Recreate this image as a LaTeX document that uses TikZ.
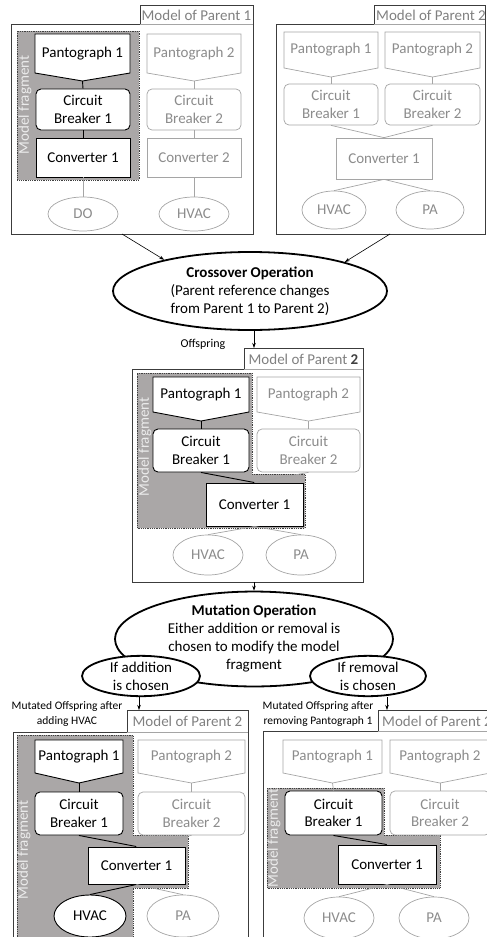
\documentclass[tikz,border=0pt]{standalone}
\usepackage{fontspec}
\setmainfont{Carlito}
\usetikzlibrary{shapes.geometric,arrows.meta}
\definecolor{fraggray}{RGB}{170,167,167}
\definecolor{ltgray}{RGB}{165,165,165}
\definecolor{lttext}{RGB}{140,140,140}
\definecolor{frametxt}{RGB}{128,128,128}
\definecolor{framecol}{RGB}{60,60,60}
\tikzset{
 txt/.style={font=\fontsize{15}{17.5}\selectfont},
 dk/.style={draw=black, line width=0.9pt, fill=white, text=black},
 lt/.style={draw=ltgray, line width=0.7pt, fill=white, text=lttext},
 lndk/.style={draw=black, line width=0.9pt},
 lnlt/.style={draw=ltgray, line width=0.7pt},
 cb/.style={rectangle, rounded corners=5pt, inner sep=0pt, align=center, txt},
 cv/.style={rectangle, inner sep=0pt, align=center, txt},
 el/.style={ellipse, inner sep=0pt, txt},
 frag/.style={fill=fraggray, draw=black!75, densely dotted, line width=0.8pt},
 fraglabel/.style={rotate=90, text=white!92!black, txt},
 frame/.style={draw=framecol, line width=0.8pt},
 tabline/.style={draw=ltgray, line width=0.4pt},
 tabtext/.style={text=frametxt, txt},
 op/.style={ellipse, draw=black, line width=1.8pt, fill=white, inner sep=0pt, align=center, font=\fontsize{15}{18}\selectfont},
 arr/.style={draw=black, line width=0.6pt, -{Stealth[length=5pt,width=3.5pt]}},
 small/.style={font=\fontsize{11.5}{15}\selectfont, align=center},
}
\newcommand\mkpanto[8]{%
 \filldraw[#2] (#3,#5) -- (#4,#5) -- (#4,#6) -- ({(#3+#4)/2},#7) -- (#3,#6) -- cycle;
 \node[#2, draw=none, fill=none, txt, inner sep=0pt] (#1) at ({(#3+#4)/2},{(#5+#6)/2}) {#8};
 \coordinate (#1t) at ({(#3+#4)/2},#7);
}
\newcommand\mkbox[8]{%
 \node[#3, #2, minimum width={#5-#4}, minimum height={#7-#6}] (#1) at ({(#4+#5)/2},{(#6+#7)/2}) {#8};
}
\newcommand\mkell[7]{%
 \node[el, #2, minimum width={2*#5}, minimum height={2*#6}] (#1) at (#3,#4) {#7};
}
\begin{document}
\begin{tikzpicture}[x=1pt,y=-1pt]
\useasboundingbox (0,0) rectangle (487,937);

% ---------------- Parent 1
\draw[frame] (11,234) -- (11,24) -- (140,24) -- (140,5) -- (253,5) -- (253,234) -- cycle;
\draw[tabline] (140,24) -- (253,24);
\node[tabtext] (tabA) at (196.5,15) {Model of Parent 1};
\draw[frag] (17,31) rectangle (139,180);
\mkpanto{aPa}{dk}{35}{130}{34}{73}{81}{Pantograph 1}
\mkbox{aCa}{dk}{cb}{36}{130}{89}{130}{Circuit\\Breaker 1}
\mkbox{aVa}{dk}{cv}{36}{130}{138}{177}{Converter 1}
\mkpanto{aPb}{lt}{147}{241}{34}{73}{81}{Pantograph 2}
\mkbox{aCb}{lt}{cb}{147}{241}{89}{130}{Circuit\\Breaker 2}
\mkbox{aVb}{lt}{cv}{147}{241}{138}{177}{Converter 2}
\mkell{aDO}{lt}{83}{214}{35}{17}{DO}
\mkell{aHV}{lt}{194}{214}{35}{17}{HVAC}
\draw[lndk] (aPat) -- (aCa.north);
\draw[lndk] (aCa.south) -- (aVa.north);
\draw[lnlt] (aPbt) -- (aCb.north);
\draw[lnlt] (aCb.south) -- (aVb.north);
\draw[lnlt] (aVa.south) -- (aDO.north);
\draw[lnlt] (aVb.south) -- (aHV.north);
\node[fraglabel] (flA) at (25,105) {Model fragment};

% ---------------- Parent 2
\draw[frame] (276,234) -- (276,24) -- (374,24) -- (374,5) -- (485,5) -- (485,234) -- cycle;
\draw[tabline] (374,24) -- (485,24);
\node[tabtext] (tabB) at (431,15) {Model of Parent 2};
\mkpanto{bPa}{lt}{284}{378}{32}{68}{77}{Pantograph 1}
\mkpanto{bPb}{lt}{385}{480}{32}{68}{77}{Pantograph 2}
\mkbox{bCa}{lt}{cb}{284}{378}{84}{125}{Circuit\\Breaker 1}
\mkbox{bCb}{lt}{cb}{385}{480}{84}{125}{Circuit\\Breaker 2}
\mkbox{bVa}{lt}{cv}{336}{432}{138}{179}{Converter 1}
\mkell{bHV}{lt}{334}{210}{32}{19}{HVAC}
\mkell{bPA}{lt}{430}{210}{34}{19}{PA}
\draw[lnlt] (bPat) -- (bCa.north);
\draw[lnlt] (bPbt) -- (bCb.north);
\draw[lnlt] (bCa.south) -- (bVa.north);
\draw[lnlt] (bCb.south) -- (bVa.north);
\draw[lnlt] (bVa.south) -- (bHV.north);
\draw[lnlt] (bVa.south) -- (bPA.north);

% ---------------- Crossover
\node[op, minimum width=274, minimum height=78] (cross) at (250,291)
 {\textbf{Crossover Operation}\\(Parent reference changes\\from Parent 1 to Parent 2)};
\coordinate (aout) at (122,234);
\coordinate (bout) at (390,234);
\draw[arr] (aout) -- (cross.160);
\draw[arr] (bout) -- (cross.17);

% ---------------- Offspring
\draw[frame] (132,582) -- (132,369) -- (244,369) -- (244,348) -- (363,348) -- (363,582) -- cycle;
\draw[tabline] (244,369) -- (363,369);
\node[tabtext] (tabO) at (303.5,359) {Model of Parent {\color{black!75}\textbf{2}}};
\node[small, font=\fontsize{12}{15}\selectfont] (offl) at (203,344) {Offspring};
\coordinate (oin) at (254,348);
\draw[arr] (cross.south -| oin) -- (oin);
\draw[frag] (137,373) -- (252,373) -- (252,474) -- (305,474) -- (305,528) -- (137,528) -- cycle;
\mkpanto{oPa}{dk}{153}{249}{377}{412}{421}{Pantograph 1}
\mkpanto{oPb}{lt}{257}{360}{377}{412}{421}{Pantograph 2}
\mkbox{oCa}{dk}{cb}{153}{249}{429}{472}{Circuit\\Breaker 1}
\mkbox{oCb}{lt}{cb}{257}{360}{429}{472}{Circuit\\Breaker 2}
\mkbox{oVa}{dk}{cv}{206}{303}{483}{526}{Converter 1}
\mkell{oHV}{lt}{208}{555}{35}{20}{HVAC}
\mkell{oPA}{lt}{301}{555}{35}{20}{PA}
\draw[lndk] (oPat) -- (oCa.north);
\draw[lnlt] (oPbt) -- (oCb.north);
\draw[lndk] (oCa.south) -- (oVa.north);
\draw[lnlt] (oCb.south) -- (oVa.north);
\draw[lnlt] (oVa.south) -- (oHV.north);
\draw[lnlt] (oVa.south) -- (oPA.north);
\node[fraglabel] (flO) at (145,447) {Model fragment};

% ---------------- Mutation
\coordinate (oout) at (254,582);
\node[op, minimum width=278, minimum height=76] (mut) at (254,639)
 {\textbf{Mutation Operation}\\Either addition or removal is\\chosen to modify the model\\fragment};
\draw[arr] (oout) -- (mut.north);
\node[op, minimum width=118, minimum height=37] (addl) at (141,676) {If addition\\is chosen};
\node[op, minimum width=116, minimum height=37] (reml) at (368,676) {If removal\\is chosen};
\coordinate (lin) at (139,710);
\coordinate (rin) at (387,710);
\draw[arr] (addl.south -| lin) -- (lin);
\draw[arr] (reml.south -| rin) -- (rin);

% ---------------- Bottom left
\draw[frame] (13,945) -- (13,732) -- (127,732) -- (127,710) -- (248,710) -- (248,945);
\draw[tabline] (127,732) -- (248,732);
\node[tabtext] (tabL) at (187.5,721) {Model of Parent 2};
\node[small] (labL) at (67,714) {Mutated Offspring after\\adding HVAC};
\draw[frag] (17,735) -- (133,735) -- (133,835) -- (188,835) -- (188,888) -- (133,888) -- (133,945) -- (17,945) -- cycle;
\mkpanto{lPa}{dk}{35}{123}{740}{773}{783}{Pantograph 1}
\mkpanto{lPb}{lt}{138}{245}{740}{773}{783}{Pantograph 2}
\mkbox{lCa}{dk}{cb}{35}{123}{792}{835}{Circuit\\Breaker 1}
\mkbox{lCb}{lt}{cb}{138}{245}{792}{835}{Circuit\\Breaker 2}
\mkbox{lVa}{dk}{cv}{88}{185}{847}{884}{Converter 1}
\mkell{lHV}{dk}{90}{916}{36}{21}{HVAC}
\mkell{lPA}{lt}{183}{916}{36}{21}{PA}
\draw[lndk] (lPat) -- (lCa.north);
\draw[lnlt] (lPbt) -- (lCb.north);
\draw[lndk] (lCa.south) -- (lVa.north);
\draw[lnlt] (lCb.south) -- (lVa.north);
\draw[lndk] (lVa.south) -- (lHV.north);
\draw[lnlt] (lVa.south) -- (lPA.north);
\node[fraglabel] (flL) at (24,850) {Model fragment};

% ---------------- Bottom right
\draw[frame] (263,945) -- (263,731) -- (378,731) -- (378,710) -- (495,710);
\draw[tabline] (378,731) -- (495,731);
\node[tabtext, anchor=west, inner sep=0pt] (tabR) at (382,721) {Model of Parent 2};
\node[small] (labR) at (318,714) {Mutated Offspring after\\removing Pantograph 1};
\draw[frag] (267,788) -- (384,788) -- (384,835) -- (440,835) -- (440,888) -- (267,888) -- cycle;
\mkpanto{rPa}{lt}{283}{382}{740}{773}{783}{Pantograph 1}
\mkpanto{rPb}{lt}{390}{490}{740}{773}{783}{Pantograph 2}
\mkbox{rCa}{dk}{cb}{285}{382}{791}{835}{Circuit\\Breaker 1}
\mkbox{rCb}{lt}{cb}{390}{490}{791}{835}{Circuit\\Breaker 2}
\mkbox{rVa}{dk}{cv}{338}{436}{845}{884}{Converter 1}
\mkell{rHV}{lt}{339}{918}{35}{21}{HVAC}
\mkell{rPA}{lt}{434}{918}{35}{21}{PA}
\draw[lnlt] (rPat) -- (rCa.north);
\draw[lnlt] (rPbt) -- (rCb.north);
\draw[lndk] (rCa.south) -- (rVa.north);
\draw[lnlt] (rCb.south) -- (rVa.north);
\draw[lnlt] (rVa.south) -- (rHV.north);
\draw[lnlt] (rVa.south) -- (rPA.north);
\node[fraglabel] (flR) at (274,838) {Model fragment};
\end{tikzpicture}
\end{document}
